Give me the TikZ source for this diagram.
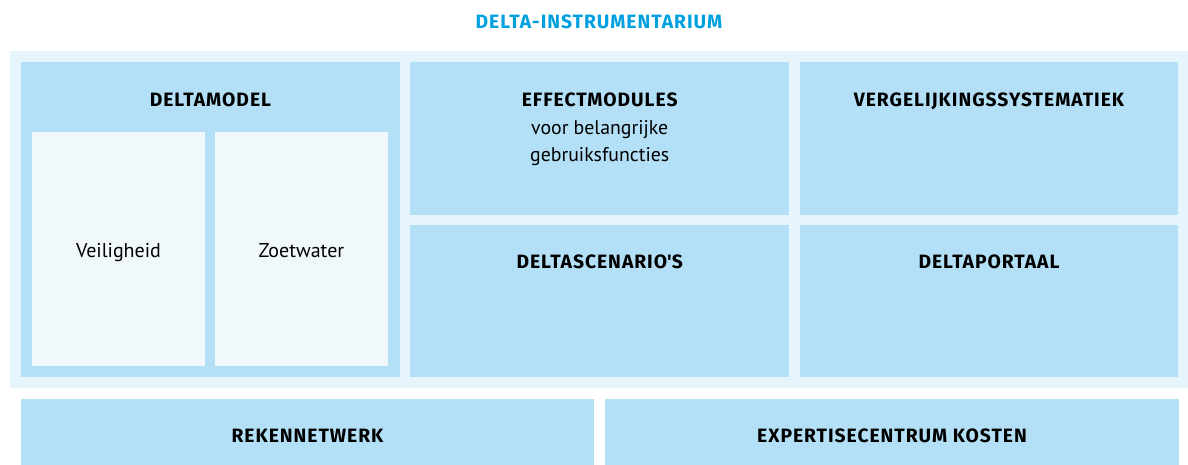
\documentclass[tikz,border=0pt]{standalone}
\usepackage{fontspec}
\setmainfont{PT Sans}
\newfontfamily\headfont[LetterSpace=5]{Fira Sans}
\usetikzlibrary{positioning, calc}

\definecolor{deltablue}{HTML}{00A0DF}
\definecolor{panelblue}{HTML}{B3E0F6}
\definecolor{framebg}{HTML}{E6F4FC}
\definecolor{subbg}{HTML}{F1F8FC}

\begin{document}
\begin{tikzpicture}[
    x=1pt, y=-1pt,
    font=\fontsize{19}{27}\selectfont,
    box/.style={fill=panelblue, inner sep=0pt, outer sep=0pt},
    panel/.style={box, minimum width=378.8pt, minimum height=152pt},
    sub/.style={fill=subbg, inner sep=0pt, outer sep=0pt, minimum width=173pt, minimum height=233.5pt},
    head/.style={font=\headfont\fontsize{19.3}{27}\selectfont\bfseries, anchor=base, inner sep=0pt},
    txt/.style={anchor=base, inner sep=0pt},
    node distance=10.5pt and 10.5pt,
]
\useasboundingbox (0,0) rectangle (1188,465);

% --- TITLE + FRAME ---
\node[head, text=deltablue] (title) at (599,28.3) {DELTA-INSTRUMENTARIUM};
\node[fill=framebg, inner sep=0pt, minimum width=1178pt, minimum height=337pt, anchor=north west] (frame) at (10,51) {};

% --- DELTAMODEL (left) ---
\node[box, minimum width=378.8pt, minimum height=314.5pt, anchor=north west] (deltamodel) at (21,62.5) {};
\node[head] (modelhead) at ([yshift=-44pt]deltamodel.north) {DELTAMODEL};
\node[sub, anchor=north west] (veilig) at (32,132) {};
\node[sub, right=10pt of veilig, minimum width=172.7pt] (zoet) {};
\node[txt, font=\fontsize{20}{27}\selectfont] (veiligtxt) at ([yshift=-8.5pt]veilig.center) {Veiligheid};
\node[txt, font=\fontsize{20}{27}\selectfont] (zoettxt) at ([yshift=-8.5pt]zoet.center) {Zoetwater};

% --- MIDDLE + RIGHT COLUMNS ---
\node[panel, right=of deltamodel.north east, anchor=north west] (effect) {};
\node[panel, right=of effect.north east, anchor=north west] (vergelijking) {};
\node[panel, below=of effect] (scenario) {};
\node[panel, below=of vergelijking] (portaal) {};

\node[head] (effecthead) at ([yshift=-44.5pt]effect.north) {EFFECTMODULES};
\node[txt, align=center, anchor=north, font=\fontsize{19.8}{27}\selectfont] (effecttxt) at ([yshift=-57.5pt]effect.north)
    {voor belangrijke\\gebruiksfuncties};
\node[head] (verghead) at ([yshift=-44.5pt]vergelijking.north) {VERGELIJKINGSSYSTEMATIEK};
\node[head] (scenhead) at ([yshift=-43.5pt]scenario.north) {DELTASCENARIO\textquotesingle S};
\node[head] (portaalhead) at ([yshift=-43.5pt]portaal.north) {DELTAPORTAAL};

% --- BOTTOM ROW ---
\node[box, minimum width=573pt, minimum height=66pt, anchor=north west] (reken) at (21,399) {};
\node[box, right=11pt of reken, minimum width=574pt, minimum height=66pt] (kosten) {};
\node[head] (rekenhead) at ([yshift=-10.7pt]reken.center) {REKENNETWERK};
\node[head] (kostenhead) at ([yshift=-10.7pt]kosten.center) {EXPERTISECENTRUM KOSTEN};

\end{tikzpicture}
\end{document}
